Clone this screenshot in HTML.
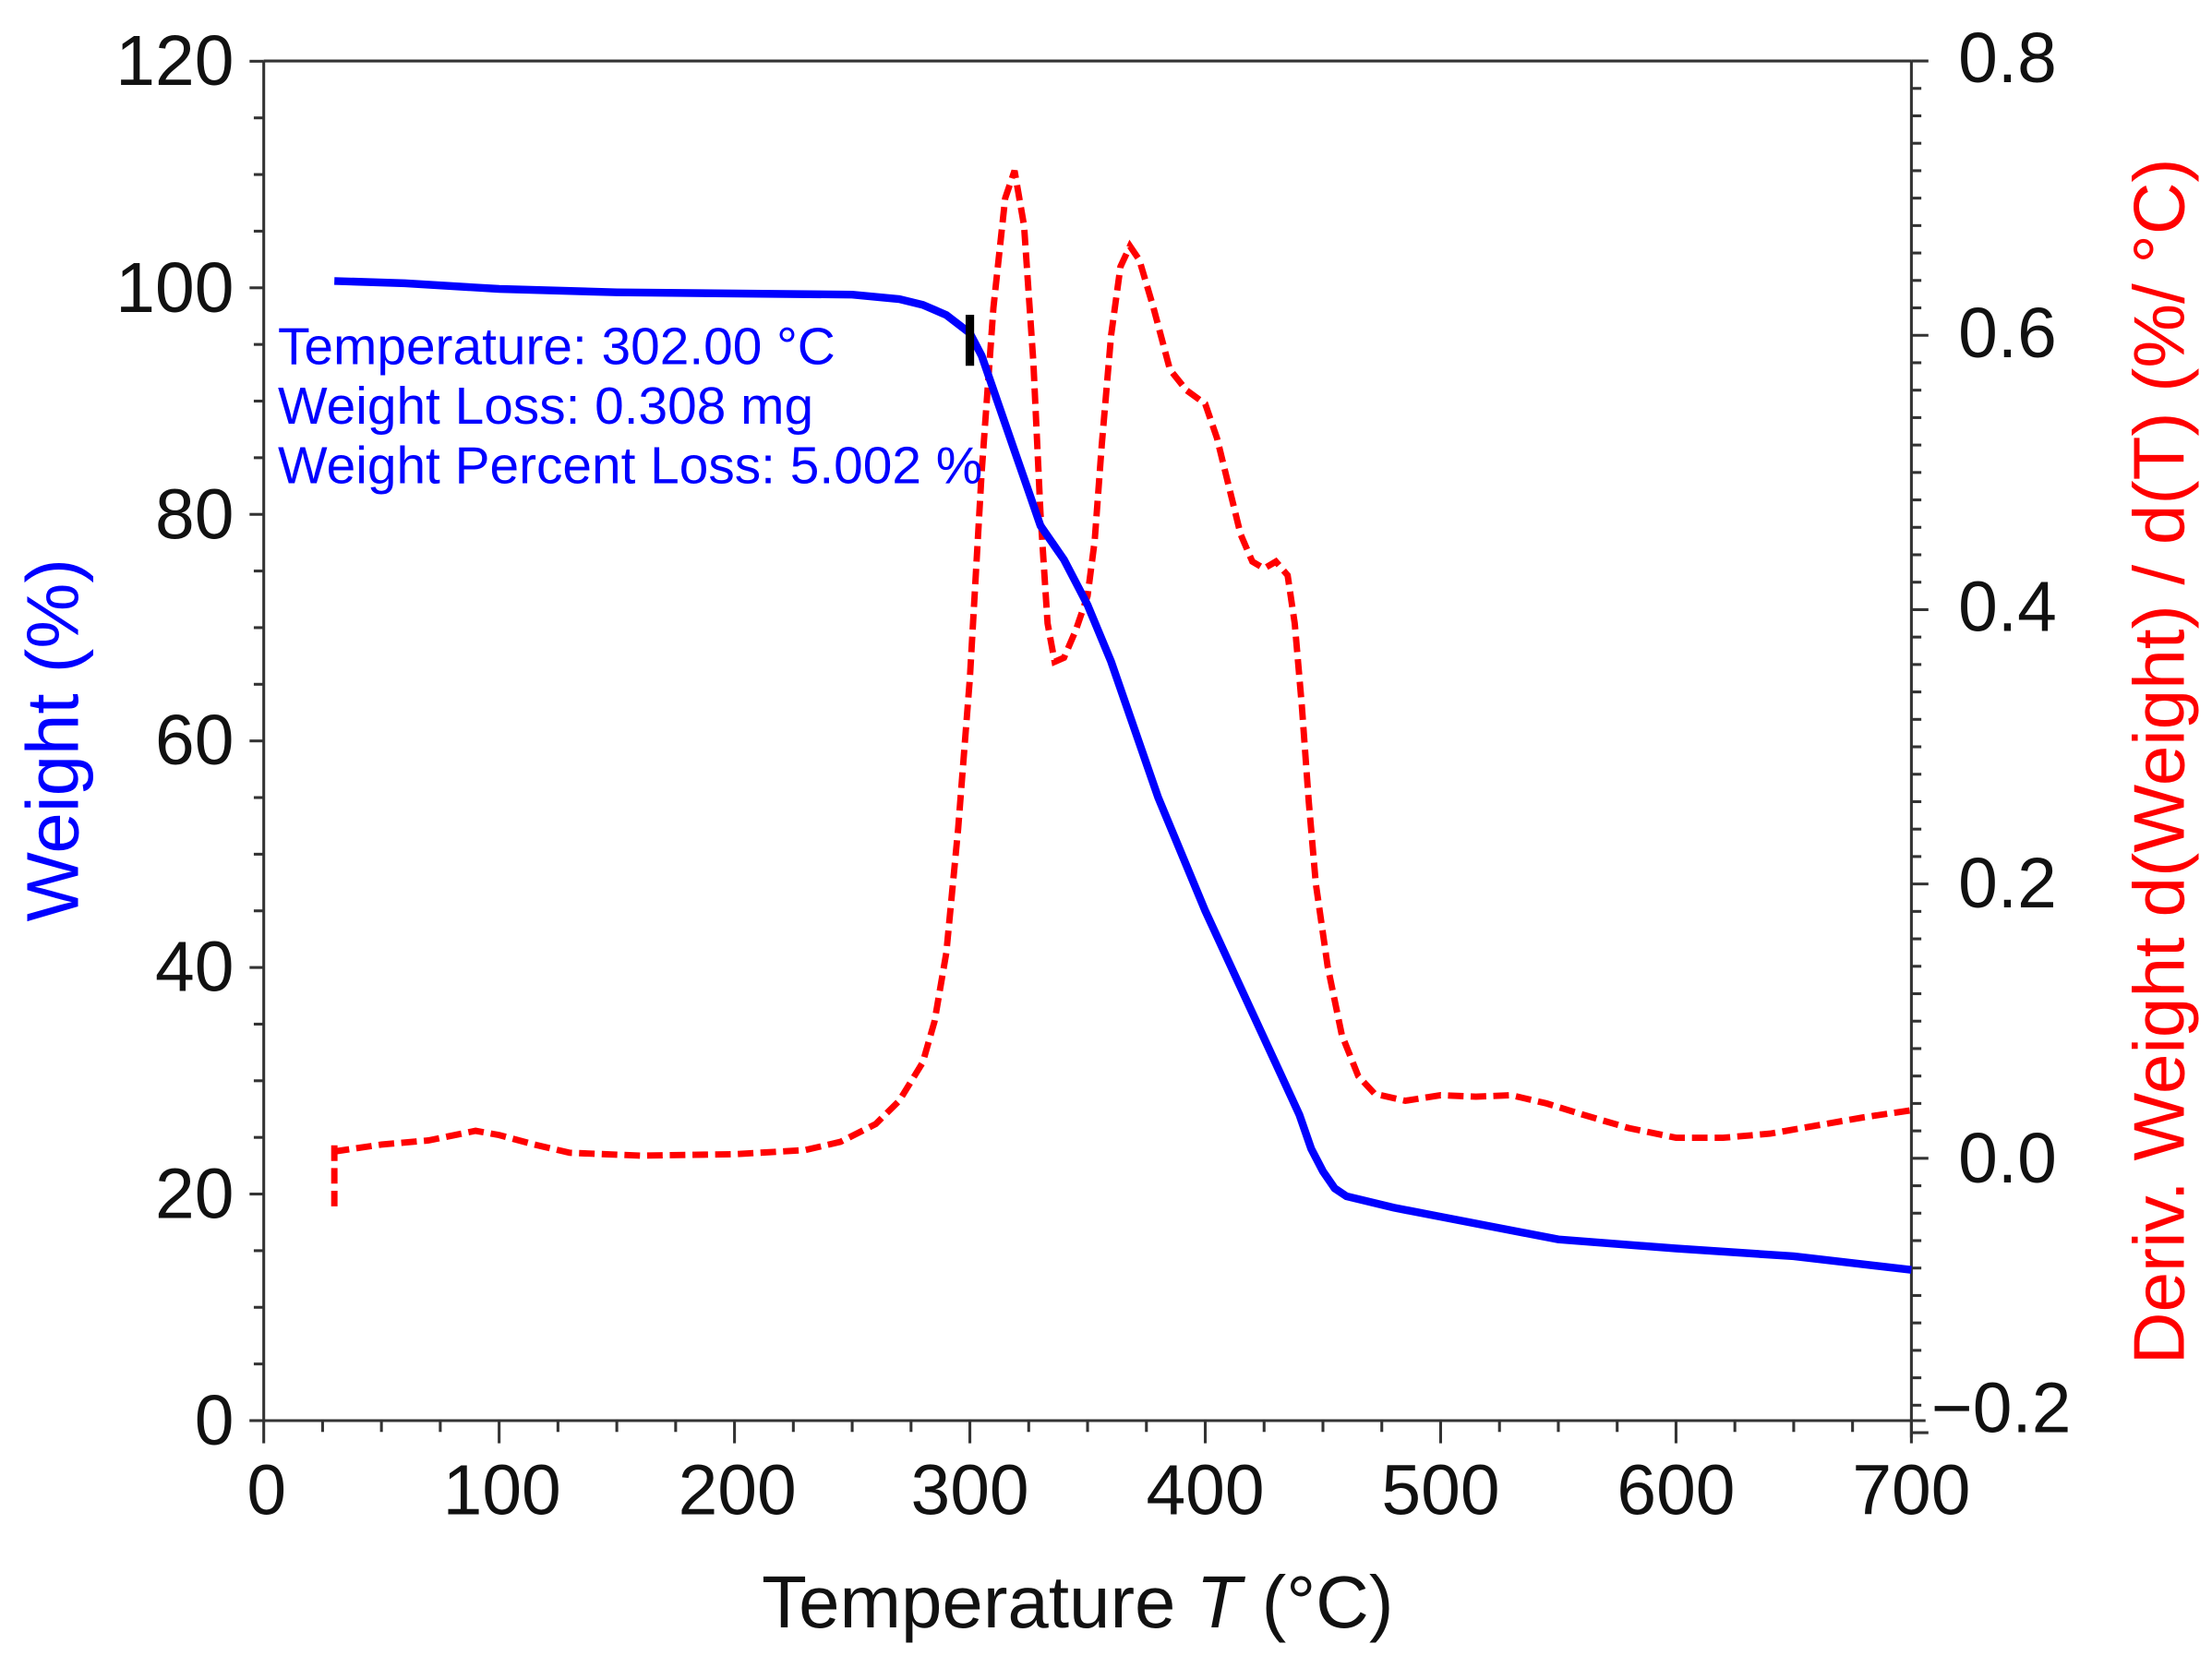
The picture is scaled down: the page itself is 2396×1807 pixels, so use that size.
<!DOCTYPE html>
<html><head><meta charset="utf-8"><style>
html,body{margin:0;padding:0;background:#fff;}
svg{display:block;}
text{font-family:"Liberation Sans",Arial,sans-serif;}
</style></head><body>
<svg id="s" width="2396" height="1807" viewBox="0 0 1560 1176.5" preserveAspectRatio="none" xmlns="http://www.w3.org/2000/svg">
<rect width="1560" height="1176.5" fill="#fff"/>
<g id="axes" stroke="#333" stroke-width="2" fill="none">
<line x1="186" y1="43" x2="1348" y2="43"/>
<line x1="186" y1="43" x2="186" y2="1002"/>
<line x1="176" y1="1002" x2="1358" y2="1002"/>
<line x1="1348" y1="43" x2="1348" y2="1014"/>
</g>
<g id="ticks" stroke="#333" stroke-width="2"></g>
<g font-size="50" fill="#111" text-anchor="end">
<text x="165" y="60">120</text><text x="165" y="220">100</text><text x="165" y="380">80</text>
<text x="165" y="539">60</text><text x="165" y="699">40</text><text x="165" y="859">20</text><text x="165" y="1019">0</text>
</g>
<g font-size="50" fill="#111" text-anchor="middle">
<text x="188" y="1068">0</text><text x="354" y="1068">100</text><text x="520" y="1068">200</text>
<text x="684" y="1068">300</text><text x="850" y="1068">400</text><text x="1016" y="1068">500</text>
<text x="1182" y="1068">600</text><text x="1348" y="1068">700</text>
</g>
<g font-size="50" fill="#111" text-anchor="start">
<text x="1381" y="58">0.8</text><text x="1381" y="252">0.6</text><text x="1381" y="445">0.4</text>
<text x="1381" y="640">0.2</text><text x="1381" y="834">0.0</text><text x="1362" y="1010">−0.2</text>
</g>
<text x="760" y="1148" font-size="52" fill="#111" text-anchor="middle">Temperature <tspan font-style="italic">T</tspan> (°C)</text>
<text transform="translate(55,522) rotate(-90)" font-size="52" fill="#0000ff" text-anchor="middle">Weight  (%)</text>
<text transform="translate(1540,537) rotate(-90)" font-size="51" fill="#ff0000" text-anchor="middle">Deriv. Weight d(Weight) / d(T) (%/ °C)</text>
<path id="red" fill="none" stroke="#ff0000" stroke-width="4.5" stroke-dasharray="11,5"/>
<path id="blue" fill="none" stroke="#0000ff" stroke-width="5.5"/>
<line x1="684" y1="222" x2="684" y2="258" stroke="#000" stroke-width="6"/>
<g font-size="37" fill="#0000ff">
<text x="196" y="257">Temperature: 302.00 °C</text>
<text x="196" y="299">Weight Loss: 0.308 mg</text>
<text x="196" y="341">Weight Percent Loss: 5.002 %</text>
</g>
</svg>
<script>
var X=function(t){return 186+1.66*t},YL=function(w){return 1002-7.99*w},YR=function(d){return 817-967.5*d};
var b=[[30,100.6],[60,100.4],[100,99.9],[150,99.6],[250,99.4],[270,99.0],[280,98.5],[290,97.6],[300,96],[305,94],[310,91],[315,88],[320,85],[325,82],[330,79],[340,76],[350,72],[360,67],[370,61],[380,55],[390,50],[400,45],[410,40.5],[420,36],[430,31.5],[440,27],[445,24],[450,22],[455,20.5],[460,19.8],[480,18.8],[500,18],[550,16],[600,15.2],[650,14.5],[700,13.3]];
var r=[[30,0.005],[50,0.01],[70,0.013],[90,0.02],[100,0.017],[115,0.01],[130,0.004],[160,0.002],[200,0.003],[230,0.006],[245,0.012],[260,0.025],[270,0.042],[280,0.07],[285,0.1],[290,0.15],[295,0.24],[300,0.35],[305,0.5],[310,0.62],[315,0.7],[319,0.72],[323,0.68],[327,0.58],[330,0.47],[333,0.39],[336,0.362],[340,0.365],[345,0.385],[350,0.41],[353,0.45],[356,0.52],[360,0.6],[364,0.65],[368,0.665],[372,0.655],[378,0.62],[385,0.575],[392,0.56],[400,0.55],[405,0.525],[410,0.49],[415,0.455],[420,0.435],[425,0.43],[430,0.435],[435,0.425],[438,0.39],[441,0.33],[444,0.26],[447,0.2],[452,0.14],[458,0.09],[465,0.06],[472,0.047],[485,0.042],[500,0.046],[515,0.045],[530,0.046],[545,0.04],[560,0.032],[580,0.022],[600,0.015],[620,0.015],[640,0.018],[660,0.024],[680,0.03],[700,0.035]];
function p(a,f){return a.map(function(q,i){return (i?'L':'M')+X(q[0]).toFixed(1)+' '+f(q[1]).toFixed(1)}).join(' ')}
document.getElementById('blue').setAttribute('d',p(b,YL));
document.getElementById('red').setAttribute('d','M'+X(30)+' '+YR(-0.035)+' L'+X(30)+' '+YR(0.01)+' '+p(r,YR).replace(/^M/,'L'));
var g=document.getElementById('ticks'),s='';
for(var v=0;v<=120;v+=5){var y=YL(v);s+='<line x1="'+(v%20?179:176)+'" y1="'+y+'" x2="186" y2="'+y+'"/>';}
for(var t=0;t<=700;t+=25){var x=X(t);s+='<line x1="'+x+'" y1="1002" x2="'+x+'" y2="'+(t%100?1010:1018)+'"/>';}
for(var k=-10;k<=40;k++){var d=k*0.02;var y=YR(d);if(y<43||y>1014)continue;s+='<line x1="1348" y1="'+y+'" x2="'+(k%10?1355:1360)+'" y2="'+y+'"/>';}
g.innerHTML=s;
</script>
</body></html>
